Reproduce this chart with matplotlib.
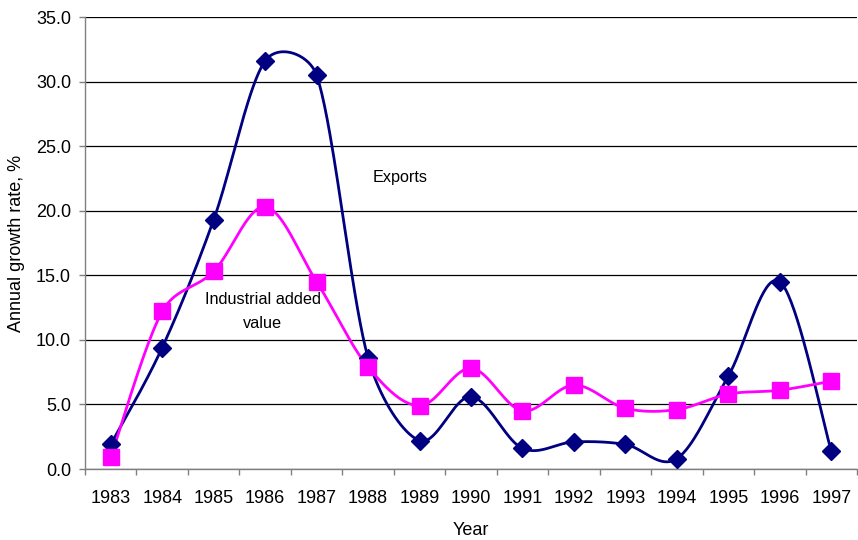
import numpy as np
import matplotlib
matplotlib.use("Agg")
import matplotlib.pyplot as plt
from matplotlib.ticker import FixedLocator, NullFormatter, FixedFormatter

plt.rcParams['font.family'] = ['Liberation Sans', 'DejaVu Sans']

years = ['1983', '1984', '1985', '1986', '1987', '1988', '1989', '1990',
         '1991', '1992', '1993', '1994', '1995', '1996', '1997']
exports = [1.9, 9.4, 19.3, 31.6, 30.5, 8.6, 2.2, 5.6, 1.6, 2.1, 1.9, 0.8, 7.2, 14.5, 1.4]
industrial = [0.9, 12.2, 15.3, 20.3, 14.5, 7.9, 4.9, 7.8, 4.5, 6.5, 4.7, 4.6, 5.8, 6.1, 6.8]


def smooth(ax, x, y, f=1 / 6, clamp=0.42, n=40):
    # Excel-like smoothing in screen space: Catmull-Rom Bezier handles,
    # each limited to a fraction of the segment's chord
    pts = ax.transData.transform(np.column_stack([x, y]).astype(float))
    m = len(pts)
    out = []

    def limit(v, lim):
        nv = np.linalg.norm(v)
        return v * (lim / nv) if nv > lim else v

    for i in range(m - 1):
        p0 = pts[max(i - 1, 0)]
        p1 = pts[i]
        p2 = pts[i + 1]
        p3 = pts[min(i + 2, m - 1)]
        d12 = np.linalg.norm(p2 - p1)
        c1 = p1 + limit((p2 - p0) * f, d12 * clamp)
        c2 = p2 - limit((p3 - p1) * f, d12 * clamp)
        t = np.linspace(0, 1, n)[:, None]
        b = ((1 - t) ** 3) * p1 + 3 * ((1 - t) ** 2) * t * c1 + 3 * (1 - t) * t ** 2 * c2 + t ** 3 * p2
        out.append(b)
    out = np.vstack(out)
    d = ax.transData.inverted().transform(out)
    return d[:, 0], d[:, 1]


fig = plt.figure(figsize=(8.58, 5.4), dpi=100)
ax = fig.add_axes([85 / 858, (540 - 469) / 540, 772 / 858, (469 - 17) / 540])

x = np.arange(len(years))
navy = '#000080'
mag = '#FF00FF'

ax.set_xlim(-0.5, len(years) - 0.5)
ax.set_ylim(0, 35)

sx, sy = smooth(ax, x, exports)
ax.plot(sx, sy, color=navy, lw=2, zorder=3)
ax.plot(x, exports, ls='none', marker='D', ms=9, color=navy, zorder=4)

sx, sy = smooth(ax, x, industrial)
ax.plot(sx, sy, color=mag, lw=2, zorder=3)
ax.plot(x, industrial, ls='none', marker='s', ms=11, color=mag, zorder=4)

ax.set_yticks(np.arange(0, 35.1, 5))
ax.set_yticklabels([f'{v:.1f}' for v in np.arange(0, 35.1, 5)])
ax.yaxis.grid(True, color='black', lw=0.9)
ax.set_axisbelow(True)

ax.xaxis.set_major_locator(FixedLocator(np.arange(-0.5, len(years), 1.0)))
ax.xaxis.set_major_formatter(NullFormatter())
ax.xaxis.set_minor_locator(FixedLocator(x))
ax.xaxis.set_minor_formatter(FixedFormatter(years))
ax.tick_params(axis='x', which='minor', length=0, pad=15, labelsize=13)
ax.tick_params(axis='x', which='major', length=4.5, color='#808080', width=1)
ax.tick_params(axis='y', length=4.5, color='#808080', width=1, labelsize=13, pad=5.5)

for s in ['top', 'right']:
    ax.spines[s].set_visible(False)
for s in ['left', 'bottom']:
    ax.spines[s].set_color('#808080')
    ax.spines[s].set_linewidth(1)

ax.set_xlabel('Year', fontsize=13, labelpad=11)
ax.set_ylabel('Annual growth rate, %', fontsize=13, labelpad=8)

ax.text(5.62, 22.6, 'Exports', fontsize=11.7, ha='center', va='center')
ax.text(2.95, 12.2, 'Industrial added\nvalue', fontsize=11.7, ha='center', va='center',
        linespacing=1.7)

fig.savefig('out.png', dpi=100)
